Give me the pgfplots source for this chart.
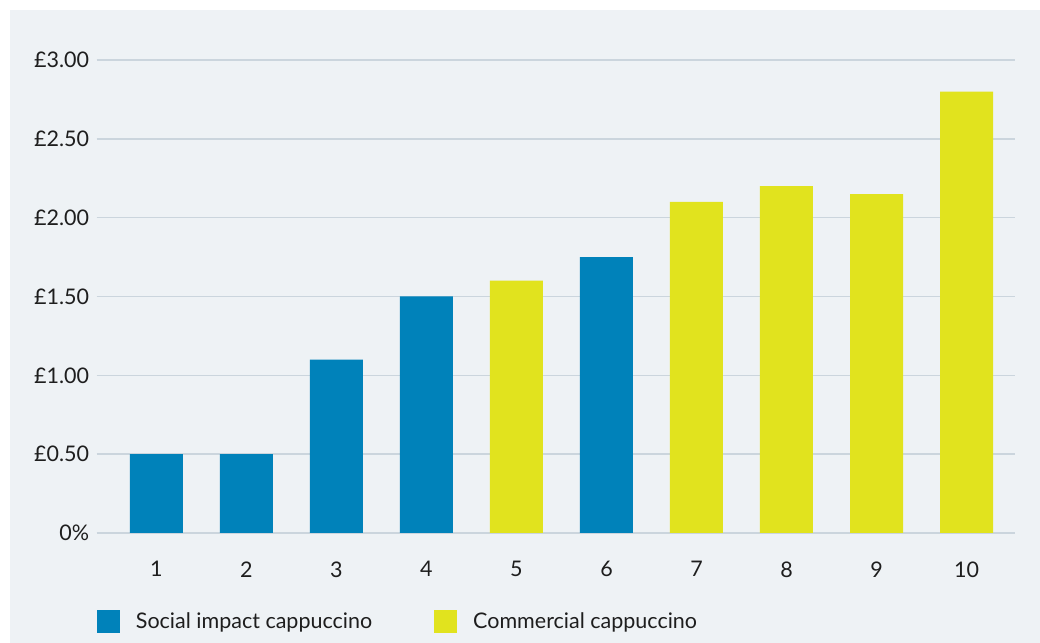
\documentclass[border=0pt]{standalone}
\usepackage{pgfplots}
\pgfplotsset{compat=1.18}
\usepackage{fontspec}
\setmainfont{Lato}
\definecolor{bgpanel}{HTML}{EEF2F5}
\definecolor{socialblue}{HTML}{0082BA}
\definecolor{commyellow}{HTML}{E1E31E}
\definecolor{gridgrey}{HTML}{CBD5DD}
\definecolor{labeltext}{HTML}{1E1E1E}
\newcommand{\chartfont}{\fontsize{21.5bp}{25bp}\selectfont}

\begin{document}
\begin{tikzpicture}[x=1bp,y=1bp]
\useasboundingbox (0,0) rectangle (1040,643);
\fill[bgpanel] (10,0) rectangle (1040,633);
\begin{axis}[
  at={(96.7bp,110bp)}, anchor=south west,
  scale only axis, width=918.3bp, height=473bp,
  xmin=0.336, xmax=10.539, ymin=0, ymax=3,
  axis line style={draw=none},
  major tick length=0pt, tick style={draw=none},
  ymajorgrids, grid style={gridgrey, line width=1.5bp},
  ytick={0,0.5,1,1.5,2,2.5,3},
  yticklabels={0\%,£0.50,£1.00,£1.50,£2.00,£2.50,£3.00},
  xtick={1,2,3,4,5,6,7,8,9,10},
  xticklabels={1,2,3,4,5,6,7,8,9,10},
  ticklabel style={font=\chartfont, text=labeltext},
  xticklabel style={yshift=-25bp},
  yticklabel style={xshift=-4bp},
  /pgf/number format/assume math mode=true,
  sqlegend/.style={legend image code/.code={\fill[##1] (0bp,-11.5bp) rectangle (23bp,11.5bp);}},
  legend columns=2,
  legend style={at={(0,-0.1871)}, anchor=west, draw=none, fill=none,
    font=\chartfont, text=labeltext, inner sep=0pt,
    nodes={inner sep=0pt, anchor=west},
    /tikz/every odd column/.style={column sep=16bp},
    /tikz/every even column/.style={column sep=62bp}},
  legend cell align=left,
]
% social impact cafes
\addplot[ybar, bar shift=0pt, bar width=53bp, fill=socialblue, draw=none, sqlegend]
  coordinates {(1,0.50) (2,0.50) (3,1.10) (4,1.50) (6,1.75)};
\addlegendentry{Social impact cappuccino}
% commercial chains
\addplot[ybar, bar shift=0pt, bar width=53bp, fill=commyellow, draw=none, sqlegend]
  coordinates {(5,1.60) (7,2.10) (8,2.20) (9,2.15) (10,2.80)};
\addlegendentry{Commercial cappuccino}
\end{axis}
\end{tikzpicture}
\end{document}
